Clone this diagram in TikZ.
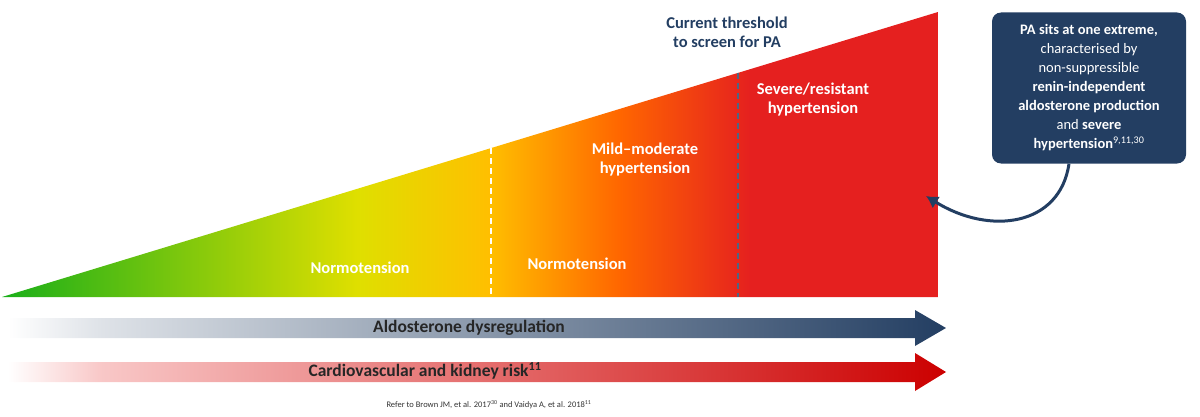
\documentclass[tikz,border=0pt]{standalone}
\usepackage{fontspec}
\setmainfont{Carlito}
\usetikzlibrary{positioning}
\usetikzlibrary{arrows.meta}
\definecolor{navy}{HTML}{233E62}
\definecolor{pared}{HTML}{E5201F}
\pgfdeclarehorizontalshading{bp_shade}{100bp}{color(0bp)=(green!65!black!90!white);color(25bp)=(green!65!black!90!white);color(44bp)=(yellow!75!olive);color(51bp)=(orange!50!yellow);color(58bp)=(orange!80!red);color(65bp)=(pared);color(100bp)=(pared)}
\pgfdeclarehorizontalshading{aldo_shade}{100bp}{color(0bp)=(white);color(25bp)=(white);color(30bp)=(navy!15);color(75bp)=(navy);color(100bp)=(navy)}
\pgfdeclarehorizontalshading{risk_shade}{100bp}{color(0bp)=(white);color(25bp)=(white);color(30bp)=(pared!25);color(75bp)=(red!80!black);color(100bp)=(red!80!black)}

\begin{document}
\begin{tikzpicture}[x=1pt,y=1pt,>=Latex,font=\bfseries,
	zone_txt/.style={text=white,font=\fontsize{16.5}{19}\selectfont\bfseries,align=center},
	band_txt/.style={text=black!85,font=\fontsize{17.5}{19}\selectfont\bfseries}]
	\useasboundingbox (0,0) rectangle (1200,416);
	% triangle
	\shade[shading=bp_shade] (2,119) -- (938,404) -- (938,119) -- cycle;
	\coordinate (sep0_top) at (491,268);
	\coordinate (sep0_bot) at (491,119);
	\coordinate (sep1_top) at (738,343);
	\coordinate (sep1_bot) at (738,119);
	\draw[white,dashed,line width=1.5pt,dash pattern=on 6pt off 4pt] (sep0_top) -- (sep0_bot);
	\draw[navy!80,dashed,line width=1.5pt,dash pattern=on 6pt off 4pt] (sep1_top) -- (sep1_bot);

	\node [zone_txt] at (360,148) (normo0_txt) {Normotension};
	\node [zone_txt] at (577,152) (normo1_txt) {Normotension};
	\node [zone_txt] at (645,256) (mild_txt) {Mild--moderate\\hypertension};
	\node [zone_txt] at (813,316) (severe_txt) {Severe/resistant\\hypertension};
	\node [text=navy,font=\fontsize{16.5}{19}\selectfont\bfseries,align=center] at (727,384) (thresh_txt) {Current threshold\\to screen for PA};

	% bands
	\shade[shading=aldo_shade] (8,98) -- (915,98) -- (915,106) -- (946,88) -- (915,70) -- (915,78) -- (8,78) -- cycle;
	\shade[shading=risk_shade] (8,54) -- (915,54) -- (915,63) -- (946,44) -- (915,25) -- (915,34) -- (8,34) -- cycle;
	\node [band_txt] at (469,88) (aldo_txt) {Aldosterone dysregulation};
	\node [band_txt] at (425,45) (risk_txt) {Cardiovascular and kidney risk\textsuperscript{11}};
	\node [font=\fontsize{8.5}{10}\selectfont,text=black!80] at (489,11) (ref_txt) {Refer to Brown JM, et al. 2017\textsuperscript{30} and Vaidya A, et al. 2018\textsuperscript{11}};

	% callout
	\node [fill=navy,rounded corners=9pt,text=white,minimum width=194pt,minimum height=151pt,align=center,inner sep=2pt,
		font=\fontsize{14.5}{19}\selectfont] at (1089,328) (pa_box)
		{\textbf{PA sits at one extreme,}\\characterised by\\non-suppressible\\\textbf{renin-independent}\\\textbf{aldosterone production}\\and \textbf{severe}\\\textbf{hypertension}\textsuperscript{9,11,30}};
	\coordinate (pa_tip) at (926,220);
	\draw[->,navy,line width=3pt,>={Latex[length=12pt,width=14pt]}] (pa_box.south)++(-20,0) .. controls (1060,190) and (990,180) .. (pa_tip);
\end{tikzpicture}
\end{document}
